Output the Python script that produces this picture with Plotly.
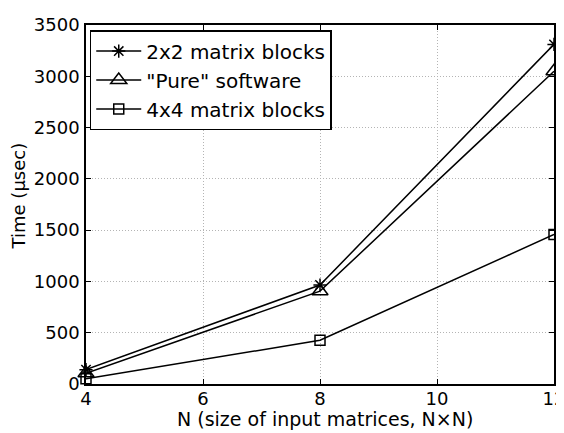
import plotly.graph_objects as go

n_values = [4, 8, 12]
series_names = ["2x2 matrix blocks", '"Pure" software', "4x4 matrix blocks"]
time_2x2 = [140, 965, 3311]
time_pure = [105, 905, 3049]
time_4x4 = [50, 426, 1457]
x_ticks = [4, 6, 8, 10, 12]
y_ticks = [0, 500, 1000, 1500, 2000, 2500, 3000, 3500]
x_title = "N (size of input matrices, N\u00d7N)"
y_title = "Time (\u00b5sec)"

FONT = "DejaVu Sans, Liberation Sans, Arial, sans-serif"

fig = go.Figure()
styles = [
    (time_2x2, "asterisk-open", 11),
    (time_pure, "triangle-up-open", 14),
    (time_4x4, "square-open", 10),
]
for name, (vals, sym, sz) in zip(series_names, styles):
    fig.add_trace(go.Scatter(
        x=n_values, y=vals, name=name, mode="lines+markers",
        line=dict(color="black", width=1.5),
        marker=dict(symbol=sym, size=sz, color="black",
                    line=dict(color="black", width=1.5)),
        cliponaxis=False,
    ))

axis_common = dict(
    showline=True, linecolor="black", linewidth=1.5, mirror="ticks",
    ticks="inside", ticklen=5, tickcolor="black", tickwidth=1,
    showgrid=True, gridcolor="#b4b4b4", griddash="1px,2px", gridwidth=1,
    zeroline=False, tickfont=dict(family=FONT, size=18, color="black"),
    ticklabeloverflow="allow",
)

fig.update_xaxes(range=[4, 12], tickvals=x_ticks, ticktext=[str(v) for v in x_ticks],
                 ticklabelstandoff=-2, **axis_common)
fig.update_yaxes(range=[0, 3500], tickvals=y_ticks, ticktext=[str(v) for v in y_ticks],
                 ticklabelstandoff=1, **axis_common)

fig.add_annotation(text=x_title, xref="paper", yref="paper", x=0.51, y=-0.097,
                   xanchor="center", yanchor="middle", showarrow=False, borderpad=0,
                   font=dict(family=FONT, size=19, color="black"))
fig.add_annotation(text=y_title, xref="paper", yref="paper", x=-0.1442, y=0.524,
                   xanchor="center", yanchor="middle", showarrow=False, textangle=-90,
                   borderpad=0, font=dict(family=FONT, size=18, color="black"))

# the page body adds an 8px offset, so margins are shifted by 8px up/left
fig.update_layout(
    width=564, height=433,
    margin=dict(l=78, r=18, t=6, b=57),
    plot_bgcolor="white", paper_bgcolor="white",
    font=dict(family=FONT, color="black"),
    legend=dict(x=0.008, y=0.986, xanchor="left", yanchor="top",
                bgcolor="white", bordercolor="black", borderwidth=1.5,
                font=dict(family=FONT, size=20, color="black"),
                itemwidth=45, tracegroupgap=0),
    showlegend=True,
)

fig.write_html("out.html")
